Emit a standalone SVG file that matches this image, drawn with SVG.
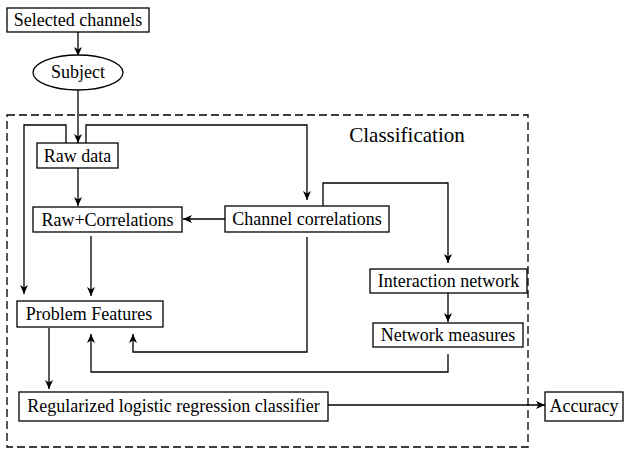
<svg xmlns="http://www.w3.org/2000/svg" width="624" height="451" viewBox="0 0 624 451">
<style>
.box{fill:#fff;stroke:#000;stroke-width:1.3}
.t{font-family:"Liberation Serif","Times New Roman",serif;font-size:18px;fill:#000;text-anchor:middle}
.c{fill:none;stroke:#000;stroke-width:1.3}
.dash{fill:none;stroke:#000;stroke-width:1.3;stroke-dasharray:8 4}
</style>
<defs>
<marker id="ah" markerWidth="10" markerHeight="8" refX="9" refY="4" orient="auto" markerUnits="userSpaceOnUse">
<path d="M0,0 L9,4 L0,8 L2.5,4 Z" fill="#000"/>
</marker>
</defs>
<rect id="classification" class="dash" x="7" y="115" width="521" height="332"/>
<text class="t" x="407" y="142" style="font-size:21px">Classification</text>
<g id="connectors">
<path class="c" d="M78,32 V56" marker-end="url(#ah)"/>
<path class="c" d="M78,90 V143" marker-end="url(#ah)"/>
<path class="c" d="M66,143 V125 H24 V294" marker-end="url(#ah)"/>
<path class="c" d="M86,143 V125 H307 V200" marker-end="url(#ah)"/>
<path class="c" d="M78,168 V206" marker-end="url(#ah)"/>
<path class="c" d="M225,219 H183" marker-end="url(#ah)"/>
<path class="c" d="M323,206 V183 H448 V263" marker-end="url(#ah)"/>
<path class="c" d="M448,293 V322" marker-end="url(#ah)"/>
<path class="c" d="M91,236 V296" marker-end="url(#ah)"/>
<path class="c" d="M307,237 V352 H133 V334" marker-end="url(#ah)"/>
<path class="c" d="M448,354 V372 H91 V334" marker-end="url(#ah)"/>
<path class="c" d="M49,328 V389" marker-end="url(#ah)"/>
<path class="c" d="M328,405 H545" marker-end="url(#ah)"/>
</g>
<g id="selected-channels"><rect class="box" x="7" y="8" width="142" height="24"/><text class="t" x="78" y="26">Selected channels</text></g>
<g id="subject"><ellipse class="box" cx="78" cy="72.5" rx="45" ry="17.5"/><text class="t" x="78" y="78">Subject</text></g>
<g id="raw-data"><rect class="box" x="37" y="143" width="81" height="25"/><text class="t" x="77.5" y="161.5">Raw data</text></g>
<g id="raw-correlations"><rect class="box" x="33" y="207" width="149" height="25"/><text class="t" x="107.5" y="225.5">Raw+Correlations</text></g>
<g id="channel-correlations"><rect class="box" x="225" y="206" width="164" height="26"/><text class="t" x="307" y="225">Channel correlations</text></g>
<g id="interaction-network"><rect class="box" x="370" y="269" width="157" height="24"/><text class="t" x="448.5" y="287">Interaction network</text></g>
<g id="network-measures"><rect class="box" x="373" y="323" width="150" height="24"/><text class="t" x="448" y="341">Network measures</text></g>
<g id="problem-features"><rect class="box" x="17" y="301" width="146" height="26"/><text class="t" x="89" y="320">Problem Features</text></g>
<g id="classifier"><rect class="box" x="19" y="392" width="309" height="29"/><text class="t" x="173.5" y="412">Regularized logistic regression classifier</text></g>
<g id="accuracy"><rect class="box" x="545" y="392" width="78" height="29"/><text class="t" x="584" y="412">Accuracy</text></g>
</svg>
